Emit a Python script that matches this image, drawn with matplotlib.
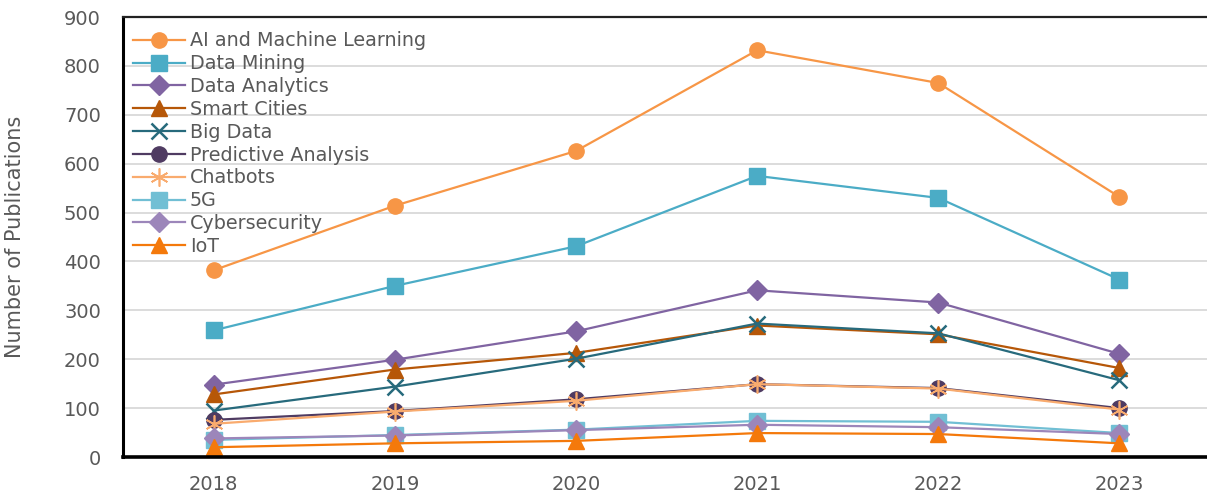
import matplotlib.pyplot as plt

years = ["2018", "2019", "2020", "2021", "2022", "2023"]

ai_ml = [382, 514, 626, 832, 765, 532]
data_mining = [259, 350, 431, 575, 530, 363]
data_analytics = [148, 199, 257, 341, 316, 211]
smart_cities = [128, 179, 213, 269, 251, 182]
big_data = [95, 144, 201, 273, 253, 157]
predictive = [76, 94, 118, 149, 141, 100]
chatbots = [68, 93, 115, 149, 140, 97]
five_g = [35, 45, 56, 74, 72, 49]
cyber = [38, 44, 55, 66, 61, 47]
iot = [20, 28, 33, 49, 47, 28]

series = [
    ("AI and Machine Learning", ai_ml, "#F79646", "o"),
    ("Data Mining", data_mining, "#4BACC6", "s"),
    ("Data Analytics", data_analytics, "#8064A2", "D"),
    ("Smart Cities", smart_cities, "#B65708", "^"),
    ("Big Data", big_data, "#276A7C", "x"),
    ("Predictive Analysis", predictive, "#4F3B62", "o"),
    ("Chatbots", chatbots, "#F9AB6E", "*"),
    ("5G", five_g, "#71BFD4", "s"),
    ("Cybersecurity", cyber, "#9C86BA", "D"),
    ("IoT", iot, "#F4790B", "^"),
]

plt.rcParams["font.family"] = ["DejaVu Sans"]
txt = "#595959"

fig = plt.figure(figsize=(12.07, 4.96), dpi=100)
ax = fig.add_axes([0.102, 0.0786, 0.9005, 0.8871])

x = range(len(years))
for name, vals, col, mk in series:
    kw = dict(markersize=11)
    if mk == "D":
        kw["markersize"] = 10
    if mk == "x":
        kw["markeredgewidth"] = 1.8
    if mk == "*":
        # asterisk drawn as thin spokes
        mk = (6, 2, 0)
        kw.update(markersize=13, markeredgewidth=1.2)
    ax.plot(x, vals, color=col, marker=mk, linewidth=1.6, label=name,
            markeredgecolor=col, **kw)

ax.set_xlim(-0.5, 5.5)
ax.set_ylim(0, 900)
ax.set_yticks(range(0, 901, 100))
ax.set_xticks(list(x))
ax.set_xticklabels(years)
ax.tick_params(axis="both", length=0, labelsize=14, colors=txt)
ax.tick_params(axis="x", pad=13)
ax.tick_params(axis="y", pad=16)
ax.grid(axis="y", color="#D9D9D9", linewidth=1.3)
ax.set_axisbelow(True)

ax.spines["left"].set_linewidth(2.2)
ax.spines["bottom"].set_linewidth(2.6)
ax.spines["top"].set_linewidth(1.6)
ax.spines["top"].set_color("#222222")
ax.spines["right"].set_visible(False)

ax.set_ylabel("Number of Publications", fontsize=15, color=txt, labelpad=28)

leg = ax.legend(loc="upper left", frameon=False, fontsize=13.8,
                handlelength=2.7, handletextpad=0.25, labelspacing=0.2,
                borderaxespad=0.35, bbox_to_anchor=(-0.004, 1.0))
for t in leg.get_texts():
    t.set_color(txt)

fig.savefig("out.png", dpi=100)
